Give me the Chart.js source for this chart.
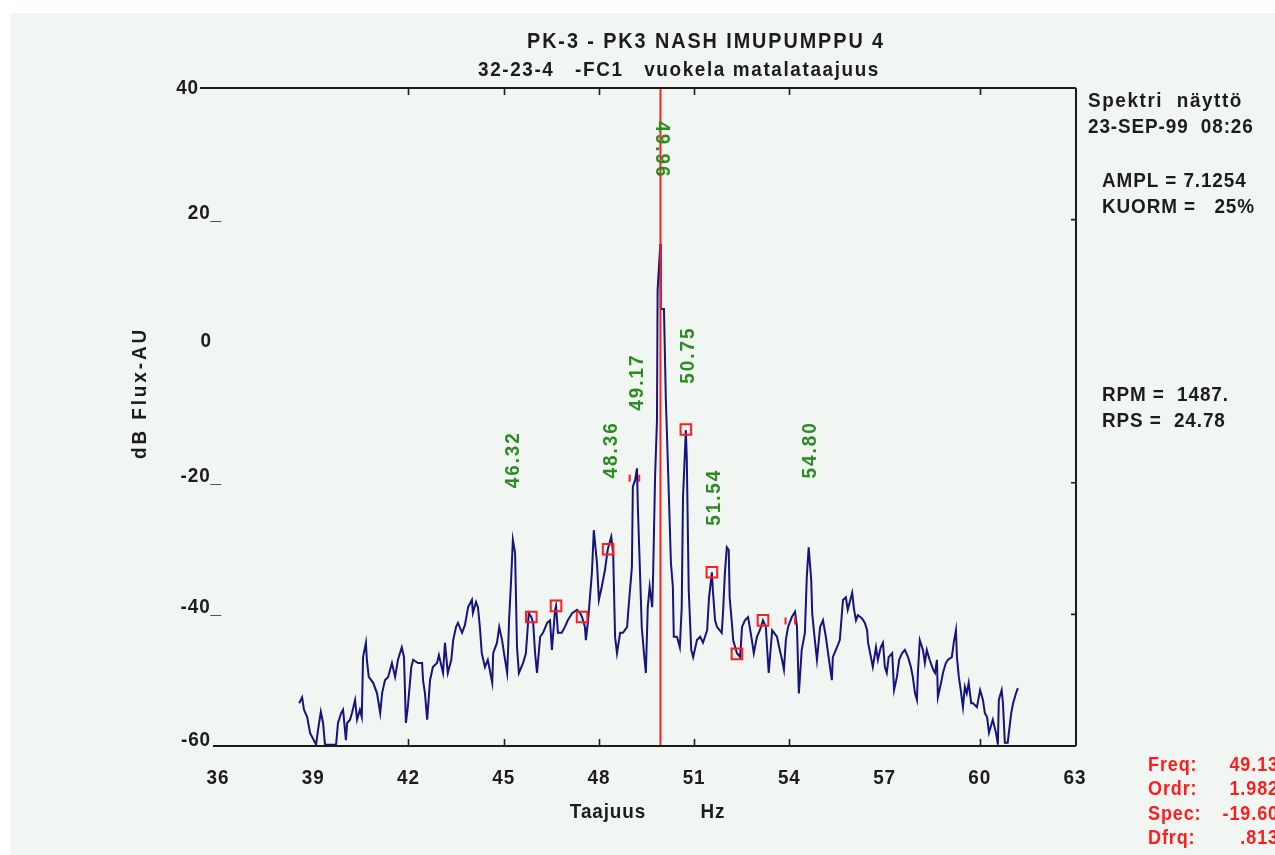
<!DOCTYPE html>
<html><head><meta charset="utf-8">
<script src="https://cdn.jsdelivr.net/npm/chart.js@4/dist/chart.umd.min.js"></script>
<style>html,body{margin:0;padding:0;background:#fff;overflow:hidden}#wrap{width:1275px;height:855px;position:relative}</style>
</head><body><div id="wrap"><canvas id="c" width="1275" height="855"></canvas></div>
<script>
// ---- data (Hz, dB) ----
const freqHz = [
38.56,38.65,38.71,38.81,38.90,39.09,39.15,39.24,39.31,39.37,39.52,39.72,39.78,39.88,39.94,40.03,40.07,40.16,40.22,40.32,
40.38,40.47,40.53,40.57,40.66,40.69,40.75,40.89,41.01,41.11,41.17,41.26,41.36,41.48,41.58,41.67,41.79,41.86,41.92,41.98,
42.09,42.15,42.30,42.43,42.46,42.52,42.59,42.68,42.77,42.90,42.96,43.09,43.15,43.24,43.35,43.41,43.50,43.56,43.69,43.78,
43.88,44.00,44.03,44.13,44.19,44.25,44.31,44.41,44.50,44.64,44.67,44.79,44.86,44.95,45.01,45.11,45.14,45.17,45.23,45.29,
45.36,45.42,45.48,45.61,45.70,45.79,45.87,45.93,45.99,46.05,46.15,46.24,46.37,46.46,46.52,46.62,46.65,46.71,46.83,46.93,
47.02,47.16,47.31,47.41,47.47,47.56,47.59,47.66,47.78,47.84,47.94,48.00,48.09,48.19,48.28,48.39,48.45,48.51,48.57,48.67,
48.76,48.89,48.92,49.04,49.07,49.14,49.20,49.23,49.29,49.35,49.42,49.48,49.54,49.60,49.68,49.71,49.77,49.83,49.85,49.935,
49.95,50.05,50.11,50.18,50.27,50.33,50.36,50.46,50.55,50.61,50.65,50.74,50.77,50.83,50.91,50.97,51.09,51.19,51.28,51.41,51.47,
51.56,51.59,51.66,51.72,51.87,51.91,51.97,52.03,52.09,52.12,52.20,52.23,52.35,52.45,52.51,52.60,52.70,52.82,52.88,52.98,
53.07,53.17,53.26,53.29,53.35,53.46,53.52,53.61,53.68,53.77,53.83,53.89,53.96,54.08,54.18,54.24,54.30,54.39,54.49,54.55,
54.61,54.69,54.72,54.78,54.87,54.97,55.06,55.15,55.22,55.34,55.37,55.50,55.59,55.69,55.78,55.84,55.98,56.04,56.10,56.16,
56.29,56.38,56.45,56.48,56.57,56.63,56.73,56.79,56.88,56.95,57.01,57.07,57.13,57.24,57.30,57.39,57.46,57.55,57.64,57.74,
57.83,57.89,57.96,58.02,58.05,58.11,58.21,58.27,58.33,58.42,58.53,58.59,58.65,58.68,58.78,58.84,58.93,59.00,59.12,59.18,
59.25,59.28,59.34,59.40,59.47,59.53,59.59,59.65,59.73,59.79,59.91,60.01,60.10,60.16,60.23,60.29,60.38,60.41,60.51,60.57,
60.60,60.69,60.73,60.79,60.88,60.99,61.05,61.14,61.20
];
const fluxDb = [
-53.5,-52.6,-54.5,-55.6,-58.0,-59.8,-57.6,-54.8,-56.5,-59.8,-59.8,-59.8,-56.5,-55.0,-54.5,-59.1,-56.5,-56.0,-55.0,-53.0,
-56.0,-54.5,-55.6,-46.5,-44.3,-46.9,-49.5,-50.4,-52.0,-55.0,-52.0,-50.0,-49.5,-47.4,-49.5,-46.9,-45.0,-46.5,-56.5,-54.1,
-48.0,-46.9,-47.4,-47.4,-50.0,-52.0,-56.0,-50.0,-48.0,-47.4,-46.2,-48.9,-44.3,-48.9,-46.9,-43.9,-41.9,-41.3,-42.8,-41.6,
-38.9,-37.8,-39.8,-38.1,-38.9,-41.9,-45.9,-48.0,-46.9,-50.4,-45.9,-44.3,-41.9,-43.9,-45.9,-48.9,-45.4,-40.9,-35.2,-28.7,
-30.7,-45.0,-48.9,-47.4,-45.9,-39.8,-40.4,-41.3,-45.9,-48.9,-43.4,-42.8,-41.3,-40.9,-45.4,-39.3,-38.7,-42.8,-42.8,-41.9,
-40.9,-39.8,-39.3,-39.8,-40.4,-41.9,-43.9,-40.9,-33.7,-27.2,-32.2,-37.8,-35.8,-33.3,-30.1,-28.2,-30.7,-43.4,-45.9,-42.8,
-42.8,-41.9,-39.8,-32.8,-20.6,-19.6,-17.8,-24.1,-32.8,-41.9,-45.9,-48.9,-38.9,-35.8,-38.9,-33.7,-19.1,-10.5,9.3,16.3,
6.4,6.4,-7.4,-18.1,-32.2,-35.8,-43.4,-43.4,-45.0,-38.9,-22.2,-12.0,-16.5,-36.3,-45.4,-46.5,-43.9,-43.4,-44.3,-42.4,-37.4,
-33.6,-36.3,-40.9,-41.9,-42.8,-39.8,-33.7,-29.8,-30.2,-37.4,-41.9,-43.9,-45.9,-46.5,-41.9,-40.9,-40.4,-43.9,-45.9,-43.4,
-42.4,-40.9,-41.9,-44.3,-48.9,-42.4,-42.8,-43.4,-45.0,-46.9,-48.4,-43.9,-41.9,-40.4,-39.6,-41.9,-52.0,-45.4,-42.8,-34.3,
-29.8,-34.8,-39.8,-42.8,-46.9,-41.9,-40.9,-43.4,-45.9,-50.0,-46.5,-45.0,-43.9,-37.8,-37.4,-39.3,-36.7,-39.3,-40.9,-40.1,
-40.6,-41.3,-42.4,-44.3,-46.5,-48.0,-45.0,-46.9,-45.0,-44.3,-48.0,-48.9,-46.5,-45.9,-51.5,-49.5,-46.9,-45.9,-45.4,-46.5,
-48.0,-49.5,-52.0,-53.0,-48.9,-43.9,-45.4,-47.4,-45.4,-46.9,-48.4,-48.9,-46.9,-52.6,-50.4,-48.9,-47.4,-46.9,-46.5,-44.3,
-42.4,-46.5,-49.5,-51.5,-54.1,-51.0,-52.0,-50.4,-53.5,-53.5,-54.1,-51.5,-53.0,-55.0,-55.6,-58.0,-56.5,-56.0,-58.0,-59.8,
-53.0,-51.5,-53.5,-59.5,-59.5,-55.0,-53.5,-52.0,-51.2
];
// sideband markers (closed squares)
const markerHz = [45.87, 46.65, 47.47, 48.29, 50.74, 51.56, 52.35, 53.17];
const markerDb = [-40.4, -38.7, -40.4, -30.1, -11.9, -33.6, -46.0, -40.9];
// partially drawn markers (only side bars visible)
const openMarkerHz = [49.12, 54.03];
const openMarkerDb = [-19.3, -41.0];
const cursorHz = 49.94;
// peak labels
const peakLabels = ['46.32', '48.36', '49.17', '49.96', '50.75', '51.54', '54.80'];
const peakLabelHz = [45.29, 48.38, 49.20, 49.99, 50.81, 51.63, 54.65];
const peakLabelDb = [-16.5, -15.0, -4.7, 30.6, -0.6, -22.2, -15.0];
// axes
const xMin = 36, xMax = 63;
const yMin = -60, yMax = 40;
const xTickValues = [36, 39, 42, 45, 48, 51, 54, 57, 60, 63];
const frameTickHz = [42, 45, 48, 51, 54, 60];
const rightTickDb = [20, -20, -40];
const yTickValues = [40, 20, 0, -20, -40, -60];
const yTickLabels = ['40', '20_', '0', '-20_', '-40_', '-60'];
// texts
const titleLines = ['PK-3 - PK3 NASH IMUPUMPPU 4', '32-23-4   -FC1   vuokela matalataajuus'];
const infoLines = [['Spektri  näyttö', '23-SEP-99  08:26'], ['AMPL = 7.1254', 'KUORM =   25%'], ['RPM =  1487.', 'RPS =  24.78']];
const readoutNames = ['Freq:', 'Ordr:', 'Spec:', 'Dfrq:'];
const readoutValues = ['49.13', '1.982', '-19.60', '.813'];
const xTitleParts = ['Taajuus', 'Hz'];
const yTitle = 'dB Flux-AU';

const FONT = "'Liberation Sans', Arial, sans-serif";
const NAVY = '#14147e', RED = '#ff1c1c', GREEN = '#2c8c24', INK = '#1c1c1c';

function txt(ctx, s, x, y, opt) {
  ctx.save();
  ctx.font = (opt.font || 'bold 21px') + ' ' + FONT;
  ctx.fillStyle = opt.color || INK;
  ctx.textAlign = opt.align || 'left';
  ctx.textBaseline = opt.base || 'middle';
  const sx = opt.sx || 0.9;
  let ls = opt.ls != null ? opt.ls : 1;
  const hasLS = 'letterSpacing' in ctx;
  if (opt.w && hasLS) {
    ctx.letterSpacing = '0px';
    const base = ctx.measureText(s).width;
    ls = Math.max(0, (opt.w / sx - base) / s.length);
  }
  if (hasLS) ctx.letterSpacing = ls + 'px';
  ctx.translate(x, y);
  if (opt.rot) ctx.rotate(opt.rot);
  ctx.scale(sx, 1);
  ctx.fillText(s, 0, 0);
  ctx.restore();
}

const decor = {
  id: 'decor',
  beforeDraw(chart) {
    const ctx = chart.ctx;
    ctx.save();
    ctx.fillStyle = '#ffffff';
    ctx.fillRect(0, 0, chart.width, chart.height);
    ctx.fillStyle = '#f2f6f2';
    ctx.fillRect(11, 13, chart.width - 11, chart.height - 13);
    ctx.restore();
  },
  afterDatasetsDraw(chart) {
    const ctx = chart.ctx, xs = chart.scales.x, ys = chart.scales.y;
    const L = xs.getPixelForValue(xMin), R = xs.getPixelForValue(xMax);
    const T = ys.getPixelForValue(yMax), B = ys.getPixelForValue(yMin);
    ctx.save();
    ctx.strokeStyle = INK; ctx.lineWidth = 2;
    ctx.beginPath();
    ctx.moveTo(L - 18, T); ctx.lineTo(R + 1, T);
    ctx.moveTo(L - 5, B); ctx.lineTo(R + 1, B);
    ctx.moveTo(R + 1, T); ctx.lineTo(R + 1, B);
    ctx.stroke();
    ctx.lineWidth = 1.6;
    ctx.beginPath();
    frameTickHz.forEach(v => {
      const p = Math.round(xs.getPixelForValue(v)) + 0.5;
      ctx.moveTo(p, T); ctx.lineTo(p, T + 7);
      ctx.moveTo(p, B); ctx.lineTo(p, B - 7);
    });
    rightTickDb.forEach(v => {
      const p = ys.getPixelForValue(v);
      ctx.moveTo(R + 1, p); ctx.lineTo(R - 4, p);
    });
    ctx.stroke();
    ctx.restore();
  },
  afterDraw(chart) {
    const ctx = chart.ctx, xs = chart.scales.x, ys = chart.scales.y;
    // titles
    txt(ctx, titleLines[0], 706, 42, { font: 'bold 22px', align: 'center', w: 358 });
    txt(ctx, titleLines[1], 679, 70, { font: 'bold 21px', align: 'center', w: 402 });
    // info block
    txt(ctx, infoLines[0][0], 1088, 101, { w: 155 });
    txt(ctx, infoLines[0][1], 1088, 127, {});
    txt(ctx, infoLines[1][0], 1102, 181, {});
    txt(ctx, infoLines[1][1], 1102, 207, {});
    txt(ctx, infoLines[2][0], 1102, 395, {});
    txt(ctx, infoLines[2][1], 1102, 421, {});
    // readout
    readoutNames.forEach((n, i) => {
      const y = 765 + i * 24.5;
      txt(ctx, n, 1148, y, { color: RED, font: 'bold 20px' });
      txt(ctx, readoutValues[i], 1279, y, { color: RED, font: 'bold 20px', align: 'right' });
    });
    // x tick labels
    xTickValues.forEach(v => {
      txt(ctx, String(v), xs.getPixelForValue(v), 778, { align: 'center' });
    });
    // y tick labels
    yTickValues.forEach((v, i) => {
      const p = ys.getPixelForValue(v);
      const s = yTickLabels[i];
      if (v === yMax) txt(ctx, s, 199, p, { align: 'right' });
      else if (s.endsWith('_')) txt(ctx, s, 222, p - 1, { align: 'right', base: 'alphabetic' });
      else txt(ctx, s, v === yMin ? 211 : 212, v === yMin ? p : p - 4, { align: 'right', base: 'alphabetic' });
    });
    // axis titles
    txt(ctx, xTitleParts[0], 608, 812, { align: 'center' });
    txt(ctx, xTitleParts[1], 713, 812, { align: 'center' });
    txt(ctx, yTitle, 140, 393, { align: 'center', rot: -Math.PI / 2, w: 132 });
    // peak labels
    peakLabels.forEach((s, i) => {
      const x = xs.getPixelForValue(peakLabelHz[i]);
      const y = ys.getPixelForValue(peakLabelDb[i]);
      const rot = s === '49.96' ? Math.PI / 2 : -Math.PI / 2;
      txt(ctx, s, x, y, { color: GREEN, align: 'center', rot, w: 57 });
    });
  }
};

const openPts = [];
openMarkerHz.forEach((f, i) => {
  openPts.push({ x: f - 0.15, y: openMarkerDb[i] });
  openPts.push({ x: f + 0.15, y: openMarkerDb[i] });
});

new Chart(document.getElementById('c'), {
  type: 'scatter',
  data: {
    datasets: [
      { label: 'cursor', type: 'line', order: 0,
        data: [{ x: cursorHz, y: yMin }, { x: cursorHz, y: yMax }],
        borderColor: RED, borderWidth: 2, pointRadius: 0 },
      { label: 'markers', order: 1,
        data: markerHz.map((f, i) => ({ x: f, y: markerDb[i] })),
        pointStyle: 'rect', pointRadius: 7.5, borderColor: RED, borderWidth: 2,
        backgroundColor: 'rgba(0,0,0,0)' },
      { label: 'open', order: 1, data: openPts,
        pointStyle: 'line', rotation: 90, pointRadius: 3.5, borderColor: RED, borderWidth: 2 },
      { label: 'spectrum', type: 'line', order: 3,
        data: freqHz.map((f, i) => ({ x: f, y: fluxDb[i] })),
        borderColor: NAVY, borderWidth: 2, pointRadius: 0, tension: 0 }
    ]
  },
  options: {
    responsive: false, animation: false, devicePixelRatio: 1,
    layout: { padding: { left: 218, right: 200, top: 88, bottom: 109 } },
    plugins: { legend: { display: false }, tooltip: { enabled: false } },
    scales: {
      x: { type: 'linear', min: xMin, max: xMax, display: false },
      y: { type: 'linear', min: yMin, max: yMax, display: false }
    }
  },
  plugins: [decor]
});
</script>
</body></html>
